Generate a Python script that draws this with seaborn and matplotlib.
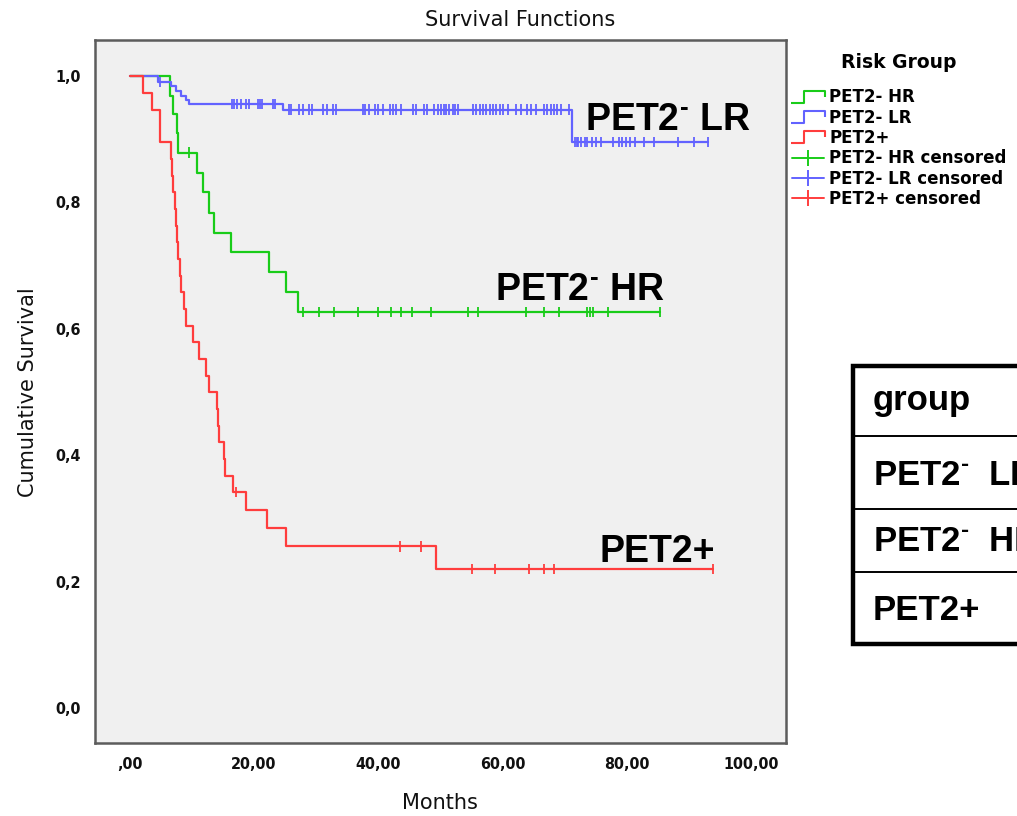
import numpy as np
import pandas as pd
import matplotlib
matplotlib.use("Agg")
import matplotlib.pyplot as plt
import seaborn as sns
from matplotlib.path import Path
from matplotlib.lines import Line2D
from matplotlib.patches import Rectangle

# ---------------- data ----------------
groups = ["PET2- HR", "PET2- LR", "PET2+"]
group_colors = ["#19CC19", "#6262FF", "#FF3D3D"]

# PET2- HR
hr_event_t = [6.5, 7.0, 7.6, 7.8, 10.8, 11.8, 12.7, 13.6, 16.3, 22.4, 25.2, 27.0]
hr_event_s = [0.969, 0.940, 0.910, 0.879, 0.846, 0.816, 0.784, 0.752, 0.721, 0.690, 0.659, 0.627]
hr_cens_t = [9.5, 27.9, 30.4, 32.8, 36.7, 39.9, 42.1, 43.7, 45.4, 48.4, 54.5, 56.1,
             63.8, 66.6, 69.0, 73.6, 74.0, 74.5, 76.9, 85.3]

# PET2- LR
lr_event_t = [4.5, 6.7, 7.4, 8.3, 9.0, 9.5, 24.6, 71.1]
lr_event_s = [0.991, 0.984, 0.976, 0.969, 0.962, 0.956, 0.947, 0.896]
lr_cens_t = [4.9, 16.4, 16.7, 17.2, 17.9, 18.7, 19.2, 20.6, 20.9, 21.2, 23.0, 23.4,
             25.6, 26.0, 27.3, 27.9, 28.9, 29.4, 31.1, 31.7, 32.7, 33.2,
             37.6, 37.9, 38.5, 39.4, 39.9, 40.7, 41.8, 42.3, 42.9, 43.7, 45.5, 46.1,
             47.4, 47.8, 49.0, 49.6, 50.1, 50.6, 50.9, 51.4, 52.0, 52.3, 52.8, 55.2,
             55.7, 56.3, 56.8, 57.3, 57.9, 58.4, 59.0, 59.5, 60.0, 60.8, 62.2, 63.0,
             64.0, 64.6, 65.4, 66.7, 67.2, 67.8, 68.3, 68.8, 69.4, 70.7,
             71.7, 71.9, 72.2, 72.6, 73.3, 73.5, 74.3, 75.0, 75.8, 77.8, 78.7, 79.2,
             79.8, 80.5, 81.3, 82.8, 84.4, 88.3, 90.8, 93.0]

# PET2+
pos_event_t = [2.1, 3.5, 4.9, 6.6, 6.8, 7.0, 7.2, 7.4, 7.6, 7.8, 8.0, 8.3, 8.7, 9.1,
               10.2, 11.1, 12.3, 12.7, 14.1, 14.2, 14.3, 15.2, 15.4, 16.6, 18.7,
               22.1, 25.2, 49.3]
pos_event_s = [0.973, 0.946, 0.895, 0.868, 0.842, 0.816, 0.789, 0.763, 0.737, 0.710,
               0.684, 0.658, 0.631, 0.605, 0.579, 0.552, 0.526, 0.500, 0.474, 0.447,
               0.421, 0.395, 0.368, 0.342, 0.314, 0.285, 0.256, 0.220]
pos_cens_t = [17.1, 43.5, 46.9, 55.0, 58.7, 64.3, 66.6, 68.2, 93.8]

x_ticks = [0, 20, 40, 60, 80, 100]
x_tick_labels = [",00", "20,00", "40,00", "60,00", "80,00", "100,00"]
y_ticks = [0.0, 0.2, 0.4, 0.6, 0.8, 1.0]
y_tick_labels = ["0,0", "0,2", "0,4", "0,6", "0,8", "1,0"]

legend_labels = ["PET2- HR", "PET2- LR", "PET2+",
                 "PET2- HR censored", "PET2- LR censored", "PET2+ censored"]
curve_labels = [r"PET2$^{\text{-}}$ LR", r"PET2$^{\text{-}}$ HR", "PET2+"]
table_rows = ["group", r"PET2$^{\text{-}}$  LR", r"PET2$^{\text{-}}$  HR", "PET2+"]

# ---------------- build frames ----------------
series = {
    "PET2- HR": (hr_event_t, hr_event_s, hr_cens_t),
    "PET2- LR": (lr_event_t, lr_event_s, lr_cens_t),
    "PET2+": (pos_event_t, pos_event_s, pos_cens_t),
}
curve_rows, cens_rows = [], []
for g, (et, es, ct) in series.items():
    end_t = max(max(ct), max(et))
    ts = [0.0] + list(et) + [end_t]
    ss = [1.0] + list(es) + [es[-1]]
    for t, s in zip(ts, ss):
        curve_rows.append((g, t, s))
    et_arr = np.array(et)
    for t in ct:
        idx = np.searchsorted(et_arr, t, side="right") - 1
        s = 1.0 if idx < 0 else es[idx]
        cens_rows.append((g, t, s))
curves = pd.DataFrame(curve_rows, columns=["group", "time", "surv"])
cens = pd.DataFrame(cens_rows, columns=["group", "time", "surv"])
palette = dict(zip(groups, group_colors))

# ---------------- figure ----------------
sns.set_style("white")
plt.rcParams["font.family"] = ["DejaVu Sans"]
plt.rcParams["text.color"] = "black"
plt.rcParams["xtick.color"] = "black"
plt.rcParams["ytick.color"] = "black"
plt.rcParams["mathtext.fontset"] = "custom"
plt.rcParams["mathtext.rm"] = "Liberation Sans:bold"
plt.rcParams["mathtext.bf"] = "Liberation Sans:bold"
plt.rcParams["mathtext.it"] = "Liberation Sans:bold"

W, H = 1017, 816
fig = plt.figure(figsize=(W / 100, H / 100), dpi=100)
fig.patch.set_facecolor("white")


def fx(px):
    return px / W


def fy(py):
    return 1 - py / H


ax = fig.add_axes([fx(95), fy(743), fx(786) - fx(95), fy(40) - fy(743)])
ax.set_facecolor("#F0F0F0")

sns.lineplot(data=curves, x="time", y="surv", hue="group", palette=palette,
             drawstyle="steps-post", estimator=None, linewidth=1.6, legend=False, ax=ax)
sns.scatterplot(data=cens, x="time", y="surv", hue="group", palette=palette,
                marker="|", s=55, linewidth=1.3, legend=False, ax=ax, zorder=3)

ax.set_xlim(-5.6, 105.6)
ax.set_ylim(-0.055, 1.057)
ax.set_xticks(x_ticks)
ax.set_xticklabels(x_tick_labels)
ax.set_yticks(y_ticks)
ax.set_yticklabels(y_tick_labels)
ax.set_xlabel("")
ax.set_ylabel("")
ax.tick_params(axis="both", direction="out", length=7, width=1.6, color="#333333",
               labelsize=11.5, pad=3, labelcolor="#111111")
for lab in ax.get_xticklabels() + ax.get_yticklabels():
    lab.set_fontweight("bold")
    lab.set_fontstretch("condensed")
for sp in ax.spines.values():
    sp.set_visible(True)
    sp.set_color("#5c5c5c")
    sp.set_linewidth(1.8)

fig.text(fx(520), fy(20), "Survival Functions", ha="center", va="center", fontsize=15,
         color="#111111")
fig.text(fx(440), fy(803), "Months", ha="center", va="center", fontsize=15, color="#111111")
fig.text(fx(28), fy(392), "Cumulative Survival", ha="center", va="center",
         rotation=90, fontsize=15, color="#111111")

# curve labels
lab_font = dict(family=["Liberation Sans", "DejaVu Sans"], fontweight="bold", fontsize=27,
                color="black")
fig.text(fx(585), fy(130), curve_labels[0], ha="left", va="baseline", **lab_font)
fig.text(fx(495), fy(300), curve_labels[1], ha="left", va="baseline", **lab_font)
fig.text(fx(600), fy(562), curve_labels[2], ha="left", va="baseline", **lab_font)

# legend
step_path = Path([(-1, -0.35), (-0.25, -0.35), (-0.25, 0.35), (1, 0.35), (1, 0.0)],
                 [Path.MOVETO, Path.LINETO, Path.LINETO, Path.LINETO, Path.LINETO])
handles = []
for c in group_colors:
    handles.append(Line2D([], [], linestyle="none", marker=step_path, markersize=24,
                          markerfacecolor="none", markeredgecolor=c, markeredgewidth=1.5))
for c in group_colors:
    handles.append(Line2D([], [], color=c, linewidth=1.4, marker="|", markersize=11,
                          markeredgewidth=1.4))
leg = fig.legend(handles=handles, labels=legend_labels, loc="upper left",
                 bbox_to_anchor=(fx(780), fy(41)), frameon=False, title="Risk Group",
                 prop=dict(weight="bold", size=12), handlelength=1.95,
                 handletextpad=0.3, labelspacing=0.14, borderpad=0.2)
leg.get_title().set_fontsize(13.5)
leg.get_title().set_fontweight("bold")
for t in leg.get_texts():
    t.set_color("black")
leg._legend_box.sep = 12

# table
tab = Rectangle((fx(853), fy(644)), fx(1100) - fx(853), fy(366) - fy(644),
                transform=fig.transFigure, facecolor="white", edgecolor="black",
                linewidth=3.2, clip_on=False)
fig.add_artist(tab)
for yl in [436, 509, 572]:
    fig.add_artist(Line2D([fx(853), fx(1017)], [fy(yl), fy(yl)], transform=fig.transFigure,
                          color="black", linewidth=1.4))
tab_font = dict(family=["Liberation Sans", "DejaVu Sans"], fontweight="bold", fontsize=25,
                color="black")
for txt, yb in zip(table_rows, [410, 485, 551, 620]):
    fig.text(fx(873), fy(yb), txt, ha="left", va="baseline", **tab_font)

fig.savefig("out.png", dpi=100)
